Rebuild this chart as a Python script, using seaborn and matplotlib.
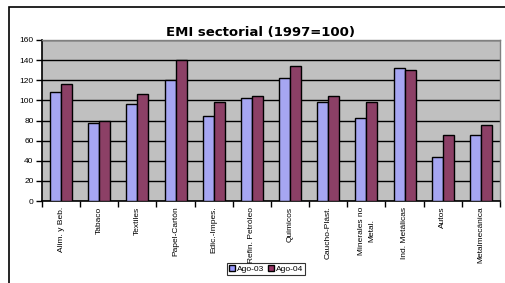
import matplotlib
matplotlib.use("Agg")
import matplotlib.pyplot as plt
import seaborn as sns
import pandas as pd
from matplotlib.patches import Rectangle
from matplotlib.lines import Line2D

categories = ["Alim. y Beb.", "Tabaco", "Textiles", "Papel-Cartón", "Edic.-Impes.",
              "Refin. Petróleo", "Quimicos", "Caucho-Plást.", "Minerales no\nMetal.",
              "Ind. Metálicas", "Autos", "Metalmecánica"]
ago03 = [108, 78, 96, 120, 84, 102, 122, 98, 82, 132, 44, 66]
ago04 = [116, 80, 106, 140, 98, 104, 134, 104, 98, 130, 66, 76]
series = ["Ago-03", "Ago-04"]
yticks = [0, 20, 40, 60, 80, 100, 120, 140, 160]

df = pd.DataFrame({
    "cat": categories * 2,
    "val": ago03 + ago04,
    "serie": [series[0]] * len(categories) + [series[1]] * len(categories),
})

sns.set_theme(style="white")
plt.rcParams["font.family"] = ["Liberation Sans", "DejaVu Sans"]
plt.rcParams["text.color"] = "black"
plt.rcParams["xtick.color"] = "black"
plt.rcParams["ytick.color"] = "black"
plt.rcParams["axes.labelcolor"] = "black"

fig = plt.figure(figsize=(5.06, 2.83), dpi=100)
ax = fig.add_axes([42/506, 1-201/283, 458/506, 161/283])
ax.set_facecolor("#C0C0C0")

sns.barplot(data=df, x="cat", y="val", hue="serie", palette=["#9999FF", "#993366"],
            width=0.58, edgecolor="black", linewidth=1.0, ax=ax, legend=False, zorder=3)

ax.set_ylim(0, 160)
ax.set_xlim(-0.5, len(categories) - 0.5)
ax.set_yticks(yticks)
ax.set_yticklabels([str(v) for v in yticks], fontsize=6)
ax.yaxis.grid(True, color="black", linewidth=1.0, zorder=1)
ax.set_axisbelow(True)
ax.set_xlabel("")
ax.set_ylabel("")

ax.set_xticks([i - 0.5 for i in range(len(categories) + 1)])
ax.set_xticklabels([])
ax.set_xticks(range(len(categories)), minor=True)
ax.set_xticklabels(categories, minor=True, rotation=90, fontsize=6, va="top", ha="center",
                   linespacing=1.6)
ax.tick_params(axis="x", which="major", direction="out", length=4, width=1, color="black", bottom=True)
ax.tick_params(axis="x", which="minor", length=0, pad=4)
ax.tick_params(axis="y", direction="out", length=4, width=1, color="black", left=True, pad=2)

for s in ["top", "right"]:
    ax.spines[s].set_color("#808080")
    ax.spines[s].set_linewidth(1.0)
for s in ["left", "bottom"]:
    ax.spines[s].set_color("black")
    ax.spines[s].set_linewidth(1.2)

fig.text(260/506, 1 - 33/283, "EMI sectorial (1997=100)", ha="center", va="center",
         fontsize=9.5, fontweight="bold", family=["DejaVu Sans"], color="black")

handles = [Line2D([], [], marker="s", linestyle="", markersize=4, markerfacecolor=c,
                  markeredgecolor="black") for c in ["#9999FF", "#993366"]]
leg = fig.legend(handles, series, loc="center", bbox_to_anchor=(266/506, 1 - 269/283),
                 ncol=2, fontsize=6, frameon=True, handlelength=0.6, handletextpad=0.3,
                 columnspacing=0.5, borderpad=0.3, fancybox=False)
leg.get_frame().set_edgecolor("black")
leg.get_frame().set_linewidth(0.8)

fig.patches.append(Rectangle((9/506, -0.2), 1.2, 1 - 7/283 + 0.2, transform=fig.transFigure,
                             fill=False, edgecolor="black", linewidth=1.2))

fig.savefig("out.png", dpi=100)
